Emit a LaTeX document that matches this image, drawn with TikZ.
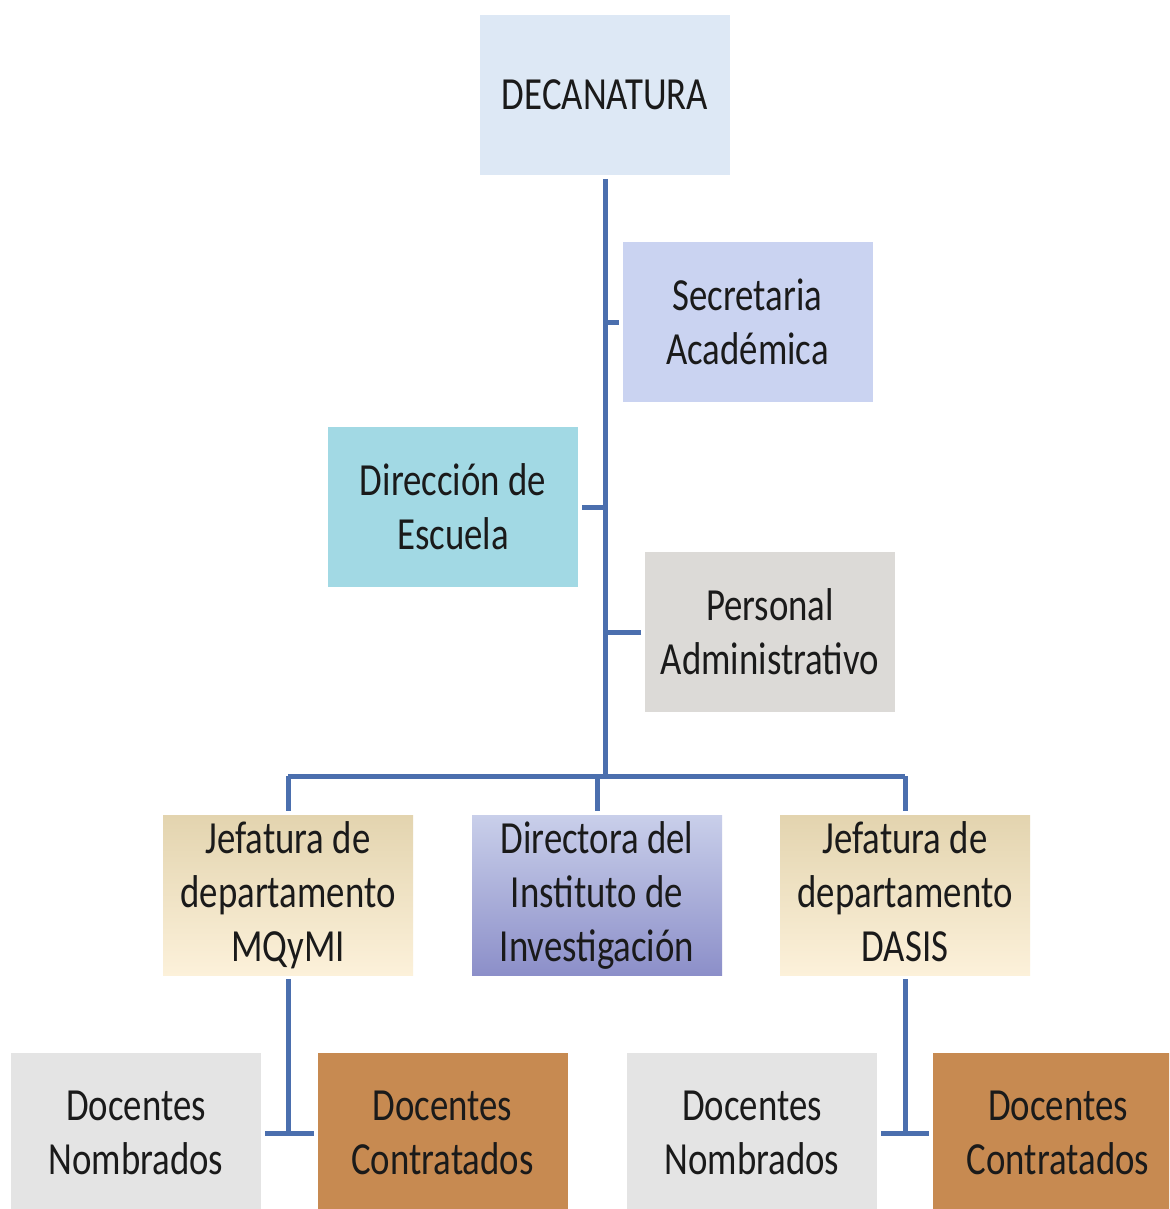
\documentclass[tikz,border=0pt]{standalone}
\usepackage{fontspec}
\setmainfont{Carlito}[FakeStretch=0.8]
\usetikzlibrary{shadings}
\definecolor{linkc}{HTML}{4B6FAE}
\definecolor{decc}{HTML}{DDE8F5}
\definecolor{secc}{HTML}{CAD3F1}
\definecolor{dirc}{HTML}{A2D9E4}
\definecolor{perc}{HTML}{DCDAD7}
\definecolor{jefT}{HTML}{E3D4AF}
\definecolor{jefB}{HTML}{FCF1DA}
\definecolor{insT}{HTML}{C9CFEA}
\definecolor{insM}{HTML}{E0E4FA}
\definecolor{insB}{HTML}{8C8FC9}
\definecolor{marc}{HTML}{E4E4E4}
\definecolor{wooc}{HTML}{C78A51}
\definecolor{txtc}{HTML}{1A1A1A}
\tikzset{
  box/.style={rectangle, minimum width=250pt, minimum height=160pt, inner sep=0pt,
    outer sep=4pt, align=center, text=txtc,
    font=\fontsize{46pt}{54pt}\selectfont},
  link/.style={draw=linkc, line width=5pt},
}
\begin{document}
\begin{tikzpicture}[x=1pt, y=-1pt]
\useasboundingbox (0,0) rectangle (1169,1209);
\fill[white] (0,0) rectangle (1169,1209);
\clip (0,0) rectangle (1169,1209);

% level 0 and side boxes
\node[box, fill=decc] (dec) at (605,95) {DECANATURA};
\node[box, fill=secc] (sec) at (747.5,322) {Secretaria\\Académica};
\node[box, fill=dirc] (dir) at (453,507) {Dirección de\\Escuela};
\node[box, fill=perc] (per) at (770,632) {Personal\\Administrativo};

% level 3
\node[box, top color=jefT, bottom color=jefB] (mq) at (288,895) {Jefatura de\\departamento\\MQyMI};
\node[box, top color=insT, middle color=insM, bottom color=insB] (ins) at (597,895) {Directora del\\Instituto de\\Investigación};
\node[box, top color=jefT, bottom color=jefB] (da) at (905,895) {Jefatura de\\departamento\\DASIS\vphantom{y}};

% level 4
\node[box, fill=marc] (nomL) at (136,1133) {Docentes\\Nombrados};
\node[box, fill=wooc] (conL) at (442.5,1133) {Docentes\\Contratados};
\node[box, fill=marc] (nomR) at (752,1133) {Docentes\\Nombrados};
\node[box, fill=wooc] (conR) at (1058,1133) {Docentes\\Contratados};

% connectors
\coordinate (bus) at (605,776);
\path[link] (dec.south) -- (bus);
\path[link] (sec.west) -- (sec.west -| bus);
\path[link] (dir.east) -- (dir.east -| bus);
\path[link] (per.west) -- (per.west -| bus);
\path[link] (mq.north |- bus) -- (da.north |- bus);
\path[link] (mq.north |- bus) -- (mq.north);
\path[link] (ins.north |- bus) -- (ins.north);
\path[link] (da.north |- bus) -- (da.north);
\path[link] (mq.south) -- (mq.south |- nomL.east);
\path[link] (nomL.east) -- (conL.west);
\path[link] (da.south) -- (da.south |- nomR.east);
\path[link] (nomR.east) -- (conR.west);
\end{tikzpicture}
\end{document}
